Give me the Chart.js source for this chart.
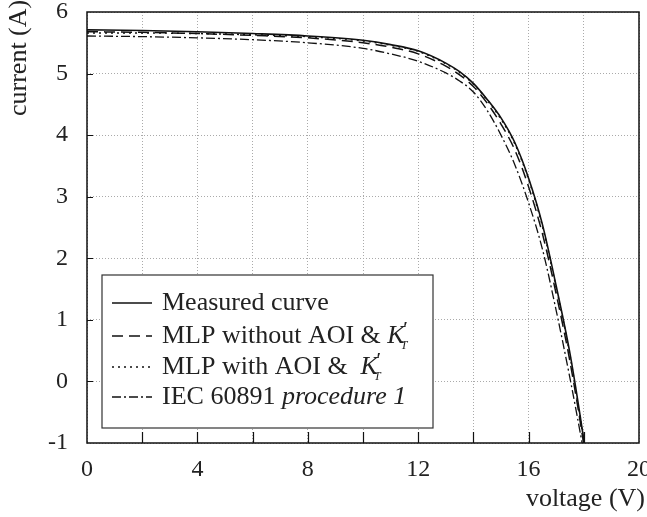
<!DOCTYPE html>
<html>
<head>
<meta charset="utf-8">
<script src="https://cdn.jsdelivr.net/npm/chart.js@4.4.0/dist/chart.umd.min.js"></script>
<style>
  html, body { margin: 0; padding: 0; background: #fff; }
  #wrap { width: 647px; height: 517px; }
</style>
</head>
<body>
<div id="wrap"><canvas id="ivChart"></canvas></div>
<script>
// voltage (V) shared by all curves, current (A) per curve
const voltage    = [0, 2, 4, 6, 8, 10, 11, 12, 13, 13.5, 14, 14.5, 15, 15.5, 16, 16.5, 17, 17.5, 18, 18.3];
const measured   = [5.71, 5.70, 5.68, 5.65, 5.61, 5.54, 5.47, 5.37, 5.17, 5.03, 4.84, 4.58, 4.28, 3.88, 3.30, 2.55, 1.55, 0.45, -0.95, -1.9];
const mlpWithout = [5.68, 5.67, 5.65, 5.62, 5.58, 5.50, 5.43, 5.32, 5.12, 4.98, 4.79, 4.52, 4.18, 3.76, 3.16, 2.40, 1.42, 0.32, -1.02, -1.9];
const mlpWith    = [5.66, 5.66, 5.65, 5.63, 5.60, 5.53, 5.46, 5.36, 5.16, 5.02, 4.83, 4.57, 4.26, 3.86, 3.28, 2.52, 1.52, 0.42, -0.98, -1.9];
const iec        = [5.61, 5.60, 5.58, 5.55, 5.50, 5.41, 5.32, 5.20, 5.01, 4.88, 4.70, 4.40, 4.00, 3.52, 2.90, 2.15, 1.15, 0.05, -1.15, -1.9];

const seriesLabels = ["Measured curve", "MLP without AOI & K′T", "MLP with AOI & K′T", "IEC 60891 procedure 1"];
const xTitle = "voltage (V)";
const yTitle = "current (A)";

const serif = "'Liberation Serif', 'Times New Roman', serif";
Chart.defaults.font.family = serif;
Chart.defaults.color = "#222";

function pts(ys) {
    return voltage.map((v, i) => ({ x: v, y: ys[i] }));
}

const styles = [
    { dash: [], width: 1.6 },
    { dash: [11, 6], width: 1.5 },
    { dash: [2, 4], width: 1.5 },
    { dash: [9, 3, 2, 3], width: 1.3 }
];
const allSeries = [measured, mlpWithout, mlpWith, iec];

// draws "K'T" with italic K, prime and subscript T
function drawKT(ctx, x, y) {
    ctx.font = "italic 26px " + serif;
    ctx.fillText("K", x, y);
    let w = ctx.measureText("K").width;
    ctx.font = "italic 22px " + serif;
    ctx.fillText("′", x + w - 3, y - 6);
    ctx.font = "italic 12px " + serif;
    ctx.fillText("T", x + w - 4, y + 10);
}

const framePlugin = {
    id: "frame",
    afterDatasetsDraw(chart) {
        const { ctx, chartArea: a, scales } = chart;
        const xs = scales.x, ys = scales.y;
        ctx.save();

        // legend box
        const lx = a.left + 15, ly = a.top + 263, lw = 331, lh = 153;
        ctx.fillStyle = "#fff";
        ctx.fillRect(lx, ly, lw, lh);
        ctx.strokeStyle = "#333";
        ctx.lineWidth = 1.2;
        ctx.strokeRect(lx, ly, lw, lh);
        ctx.fillStyle = "#222";
        ctx.textBaseline = "middle";
        ctx.textAlign = "left";
        const rowY = [303, 336, 367, 397];
        for (let i = 0; i < seriesLabels.length; i++) {
            const yy = rowY[i];
            ctx.beginPath();
            ctx.setLineDash(styles[i].dash);
            ctx.lineWidth = styles[i].width;
            ctx.strokeStyle = "#111";
            ctx.moveTo(lx + 10, yy);
            ctx.lineTo(lx + 50, yy);
            ctx.stroke();
            ctx.setLineDash([]);
            const tx = lx + 60;
            ctx.font = "26px " + serif;
            if (i === 0) {
                ctx.fillText(seriesLabels[i], tx, yy);
            } else if (i === 1) {
                const s = "MLP without AOI & ";
                ctx.fillText(s, tx, yy);
                drawKT(ctx, tx + ctx.measureText(s).width, yy);
            } else if (i === 2) {
                const s = "MLP with AOI &  ";
                ctx.fillText(s, tx, yy);
                drawKT(ctx, tx + ctx.measureText(s).width, yy);
            } else {
                const s = "IEC 60891 ";
                ctx.fillText(s, tx, yy);
                const w = ctx.measureText(s).width;
                ctx.font = "italic 26px " + serif;
                ctx.fillText("procedure 1", tx + w, yy);
            }
        }

        // inner ticks
        ctx.strokeStyle = "#111";
        ctx.lineWidth = 1.2;
        ctx.beginPath();
        for (let v = 2; v < 20; v += 2) {
            const px = Math.round(xs.getPixelForValue(v)) + 0.5;
            ctx.moveTo(px, a.bottom);
            ctx.lineTo(px, a.bottom - 11);
        }
        for (let v = 0; v < 6; v++) {
            const py = Math.round(ys.getPixelForValue(v)) + 0.5;
            ctx.moveTo(a.left, py);
            ctx.lineTo(a.left + 6, py);
        }
        ctx.stroke();

        // frame
        ctx.lineWidth = 1.5;
        ctx.strokeRect(a.left, a.top, a.right - a.left, a.bottom - a.top);

        // axis titles
        ctx.fillStyle = "#222";
        ctx.font = "26px " + serif;
        ctx.textAlign = "right";
        ctx.textBaseline = "middle";
        ctx.fillText(xTitle, 645, 499);
        ctx.translate(19, 116);
        ctx.rotate(-Math.PI / 2);
        ctx.textAlign = "left";
        ctx.fillText(yTitle, 0, 0);
        ctx.restore();
    }
};

new Chart("ivChart", {
    type: "line",
    data: {
        datasets: allSeries.map((s, i) => ({
            label: seriesLabels[i],
            data: pts(s),
            borderColor: "#111",
            borderWidth: styles[i].width,
            borderDash: styles[i].dash,
            pointRadius: 0,
            fill: false,
            cubicInterpolationMode: "monotone",
            order: 3 - i
        }))
    },
    options: {
        responsive: true,
        maintainAspectRatio: false,
        animation: false,
        layout: { padding: { top: 12, right: 8, left: 0, bottom: 0 } },
        plugins: { legend: { display: false }, tooltip: { enabled: false } },
        scales: {
            x: {
                type: "linear",
                min: 0, max: 20,
                border: { display: false, dash: [1, 2] },
                grid: { color: "#aaa", drawTicks: false, lineWidth: 1 },
                ticks: {
                    stepSize: 2,
                    padding: 12,
                    font: { size: 24 },
                    color: "#222",
                    maxRotation: 0,
                    autoSkip: false,
                    callback: v => (v % 4 === 0 ? String(v) : "")
                },
                afterFit: s => { s.height = 74; s.paddingLeft = 0; s.paddingRight = 0; }
            },
            y: {
                type: "linear",
                min: -1, max: 6,
                border: { display: false, dash: [1, 2] },
                grid: { color: "#aaa", drawTicks: false, lineWidth: 1 },
                ticks: { stepSize: 1, padding: 19, font: { size: 24 }, color: "#222" },
                afterFit: s => { s.width = 87; s.paddingTop = 0; s.paddingBottom = 0; }
            }
        }
    },
    plugins: [framePlugin]
});
</script>
</body>
</html>
